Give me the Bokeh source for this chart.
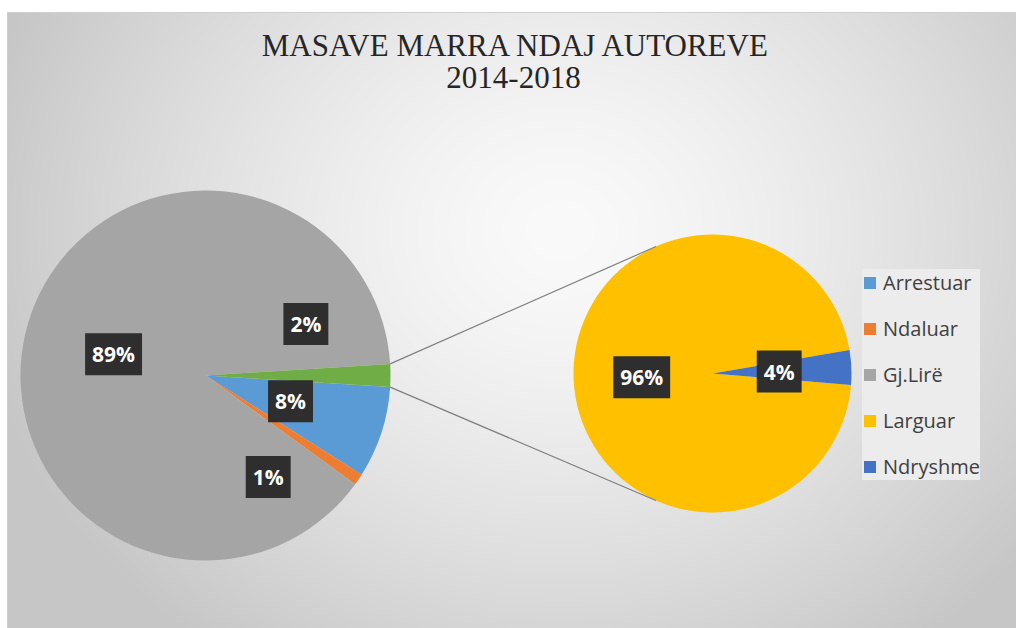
import numpy as np
from bokeh.plotting import figure
from bokeh.models import Range1d, ColumnDataSource, Legend, LegendItem, Label
from bokeh.embed import file_html
from bokeh.resources import INLINE
from bokeh.core.properties import value

# ---------------- data ----------------
title_line1 = "MASAVE MARRA NDAJ AUTOREVE"
title_line2 = "2014-2018"

main_labels = ["Arrestuar", "Ndaluar", "Gj.Lirë"]
main_values = [8, 1, 89]            # % of all measures
other_value = 2                     # % broken out into the second pie

second_labels = ["Larguar", "Ndryshme"]
second_values = [96, 4]             # % within the broken-out slice

# ---------------- style / layout ----------------
main_colors = ["#5b9bd5", "#ed7d31", "#a5a5a5"]
other_color = "#70ad47"
second_colors = ["#ffc000", "#4472c4"]

W, H = 1016, 628
PAGE_H = 628


def Y(page_y):
    return PAGE_H - page_y


C1 = (205, Y(375)); R1 = 185
C2 = (712, Y(373)); R2 = 139
second_rotation = 2.5
connector_angle = 114

# label placement (angle in degrees, fraction of radius)
main_label_pos = [(-16.8, 0.48), (-58.3, 0.645), (167.0, 0.51)]
other_label_pos = (27.2, 0.61)
second_label_pos = [(183.0, 0.51), (1.7, 0.48)]

p = figure(width=W, height=H, x_range=Range1d(0, W), y_range=Range1d(0, H),
           output_backend="svg", toolbar_location=None, min_border=0,
           x_axis_location=None, y_axis_location=None)
p.grid.visible = False
p.outline_line_color = None
p.background_fill_color = "white"
p.border_fill_color = "white"

# ---------------- background gradient ----------------
left_page, top_page = 7, 12
ih = H - top_page
iw = W - left_page
jj, ii = np.mgrid[0:ih, 0:iw]
page_y = (H - 0.5) - jj
page_x = left_page + 0.5 + ii
d = np.sqrt(((page_x - 560) / 600.0) ** 2 + ((page_y - 230) / 520.0) ** 2)
d = np.clip(d, 0, 1)
v = (250 - 52 * d ** 1.4).astype(np.uint8)
img = np.empty((ih, iw), dtype=np.uint32)
view = img.view(dtype=np.uint8).reshape((ih, iw, 4))
view[:, :, 0] = v
view[:, :, 1] = v
view[:, :, 2] = v
view[:, :, 3] = 255
p.image_rgba(image=[img], x=left_page, y=0, dw=iw, dh=ih)
# faint frame edge
p.line([left_page, left_page, W], [0, Y(top_page), Y(top_page)],
       line_color="#cfcfcf", line_width=1)

# ---------------- main pie ----------------
tot = sum(main_values) + other_value
deg = lambda val: 360.0 * val / tot
half_other = deg(other_value) / 2
cursor = -half_other
m_start, m_end = [], []
for val in main_values:
    upper = cursor
    lower = cursor - deg(val)
    m_start.append(np.radians(lower))
    m_end.append(np.radians(upper))
    cursor = lower

src_main = ColumnDataSource(dict(x=[C1[0]] * 3, y=[C1[1]] * 3, start=m_start, end=m_end,
                                 color=main_colors, label=main_labels))
r_main = p.wedge(x="x", y="y", radius=R1, radius_units="screen", start_angle="start",
                 end_angle="end", fill_color="color", line_color=None,
                 source=src_main)
p.wedge(x=C1[0], y=C1[1], radius=R1, radius_units="screen",
        start_angle=np.radians(-half_other), end_angle=np.radians(half_other),
        fill_color=other_color, line_color=None)

# ---------------- second pie ----------------
tot2 = sum(second_values)
deg2 = lambda val: 360.0 * val / tot2
half_n = deg2(second_values[1]) / 2
s_start = [np.radians(second_rotation + half_n), np.radians(second_rotation - half_n)]
s_end = [np.radians(second_rotation - half_n + 360), np.radians(second_rotation + half_n)]
src_second = ColumnDataSource(dict(x=[C2[0]] * 2, y=[C2[1]] * 2, start=s_start, end=s_end,
                                   color=second_colors, label=second_labels))
r_second = p.wedge(x="x", y="y", radius=R2, radius_units="screen", start_angle="start",
                   end_angle="end", fill_color="color", line_color=None,
                   source=src_second)

# ---------------- connector lines ----------------
for sgn in (1, -1):
    a1 = np.radians(sgn * half_other)
    a2 = np.radians(sgn * connector_angle)
    p.line([C1[0] + R1 * np.cos(a1), C2[0] + R2 * np.cos(a2)],
           [C1[1] + R1 * np.sin(a1), C2[1] + R2 * np.sin(a2)],
           line_color="#7f7f7f", line_width=1.2)

# ---------------- data labels ----------------
lx, ly, lt = [], [], []
for (ang, fr), val in zip(main_label_pos + [other_label_pos], main_values + [other_value]):
    a = np.radians(ang)
    lx.append(C1[0] + fr * R1 * np.cos(a))
    ly.append(C1[1] + fr * R1 * np.sin(a))
    lt.append(f"{val}%")
for (ang, fr), val in zip(second_label_pos, second_values):
    a = np.radians(ang)
    lx.append(C2[0] + fr * R2 * np.cos(a))
    ly.append(C2[1] + fr * R2 * np.sin(a))
    lt.append(f"{val}%")

p.text(x=lx, y=ly, text=lt, text_font=value("Open Sans"), text_font_style="bold",
       text_font_size="21px", text_color="white", text_align="center",
       text_baseline="middle", background_fill_color="#2e2e2e", padding=7)

# ---------------- title ----------------
p.add_layout(Label(x=516, y=Y(45), text=title_line1, text_font="Liberation Serif",
                   text_font_size="31px", text_color="#262626", text_align="center",
                   text_baseline="middle"))
p.add_layout(Label(x=513, y=Y(77), text=title_line2, text_font="Liberation Serif",
                   text_font_size="31px", text_color="#262626", text_align="center",
                   text_baseline="middle"))

# ---------------- legend ----------------
items = [LegendItem(label=l, renderers=[r_main], index=i) for i, l in enumerate(main_labels)]
items += [LegendItem(label=l, renderers=[r_second], index=i) for i, l in enumerate(second_labels)]
legend = Legend(items=items, location=(862, Y(480)), orientation="vertical",
                background_fill_color="#ececec", background_fill_alpha=1.0,
                border_line_color=None, label_text_font="Open Sans",
                label_text_font_size="20px", label_text_color="#404040",
                glyph_width=15, glyph_height=15, label_standoff=6, spacing=19,
                padding=16, margin=0, label_height=20)
p.add_layout(legend)

open("out.html", "w").write(file_html(p, INLINE))
